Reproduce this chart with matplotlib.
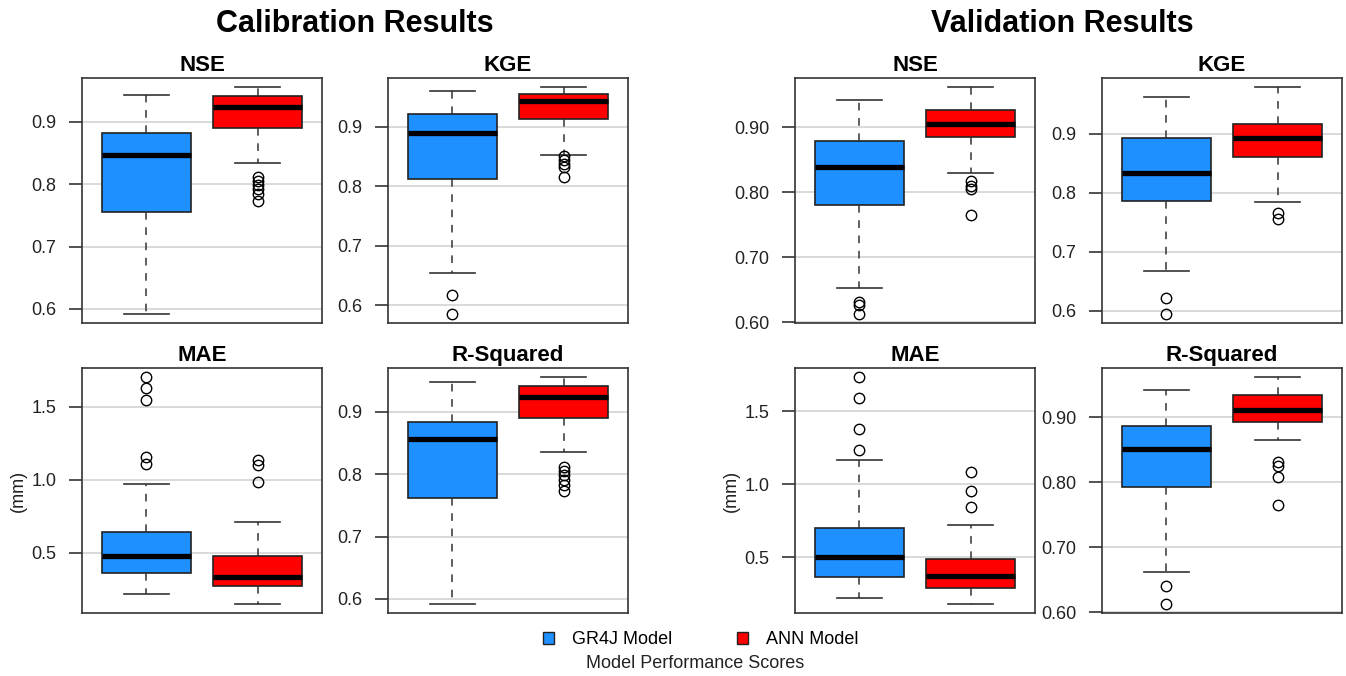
import matplotlib
matplotlib.use("Agg")
import matplotlib.pyplot as plt
from matplotlib.patches import Patch
from matplotlib.ticker import FormatStrFormatter

plt.rcParams['font.family'] = ['Liberation Sans', 'DejaVu Sans']

# ---------------- data (whislo, q1, median, q3, whishi) + outliers ----------------
models = ["GR4J Model", "ANN Model"]
colors = ["#1E90FF", "#FF0000"]

cal_nse_gr4j = [0.592, 0.755, 0.847, 0.883, 0.943]
cal_nse_gr4j_out = []
cal_nse_ann = [0.834, 0.890, 0.924, 0.942, 0.956]
cal_nse_ann_out = [0.811, 0.805, 0.799, 0.792, 0.784, 0.773]

cal_kge_gr4j = [0.654, 0.812, 0.889, 0.922, 0.960]
cal_kge_gr4j_out = [0.617, 0.585]
cal_kge_ann = [0.853, 0.914, 0.943, 0.956, 0.967]
cal_kge_ann_out = [0.851, 0.845, 0.838, 0.833, 0.816]

cal_mae_gr4j = [0.214, 0.358, 0.473, 0.639, 0.974]
cal_mae_gr4j_out = [1.705, 1.632, 1.545, 1.156, 1.111]
cal_mae_ann = [0.147, 0.269, 0.333, 0.475, 0.710]
cal_mae_ann_out = [1.133, 1.099, 0.985]

cal_r2_gr4j = [0.592, 0.7615, 0.856, 0.8835, 0.948]
cal_r2_gr4j_out = []
cal_r2_ann = [0.835, 0.890, 0.924, 0.942, 0.956]
cal_r2_ann_out = [0.812, 0.806, 0.799, 0.791, 0.783, 0.774]

val_nse_gr4j = [0.653, 0.781, 0.838, 0.878, 0.9415]
val_nse_gr4j_out = [0.632, 0.626, 0.613]
val_nse_ann = [0.829, 0.885, 0.905, 0.926, 0.9615]
val_nse_ann_out = [0.817, 0.810, 0.805, 0.765]

val_kge_gr4j = [0.668, 0.787, 0.834, 0.892, 0.962]
val_kge_gr4j_out = [0.622, 0.595]
val_kge_ann = [0.785, 0.861, 0.892, 0.916, 0.979]
val_kge_ann_out = [0.766, 0.756]

val_mae_gr4j = [0.223, 0.363, 0.504, 0.703, 1.168]
val_mae_gr4j_out = [1.735, 1.593, 1.379, 1.236]
val_mae_ann = [0.181, 0.287, 0.374, 0.490, 0.722]
val_mae_ann_out = [1.088, 0.957, 0.847]

val_r2_gr4j = [0.662, 0.7925, 0.852, 0.887, 0.942]
val_r2_gr4j_out = [0.640, 0.613]
val_r2_ann = [0.865, 0.893, 0.912, 0.934, 0.962]
val_r2_ann_out = [0.832, 0.825, 0.808, 0.765]

ticks_score = [0.6, 0.7, 0.8, 0.9]
ticks_mae = [0.5, 1.0, 1.5]

panels = [
    # title, gr4j, gr4j_out, ann, ann_out, ticks, fmt, ylabel, (col,row)
    ("NSE", cal_nse_gr4j, cal_nse_gr4j_out, cal_nse_ann, cal_nse_ann_out, ticks_score, "%.1f", "", (0, 0)),
    ("KGE", cal_kge_gr4j, cal_kge_gr4j_out, cal_kge_ann, cal_kge_ann_out, ticks_score, "%.1f", "", (1, 0)),
    ("MAE", cal_mae_gr4j, cal_mae_gr4j_out, cal_mae_ann, cal_mae_ann_out, ticks_mae, "%.1f", "(mm)", (0, 1)),
    ("R-Squared", cal_r2_gr4j, cal_r2_gr4j_out, cal_r2_ann, cal_r2_ann_out, ticks_score, "%.1f", "", (1, 1)),
    ("NSE", val_nse_gr4j, val_nse_gr4j_out, val_nse_ann, val_nse_ann_out, ticks_score, "%.2f", "", (2, 0)),
    ("KGE", val_kge_gr4j, val_kge_gr4j_out, val_kge_ann, val_kge_ann_out, ticks_score, "%.1f", "", (3, 0)),
    ("MAE", val_mae_gr4j, val_mae_gr4j_out, val_mae_ann, val_mae_ann_out, ticks_mae, "%.1f", "(mm)", (2, 1)),
    ("R-Squared", val_r2_gr4j, val_r2_gr4j_out, val_r2_ann, val_r2_ann_out, ticks_score, "%.2f", "", (3, 1)),
]

# ---------------- layout ----------------
W, H = 1346, 676
fig = plt.figure(figsize=(W / 100, H / 100), dpi=100)
col_x = [(82, 322), (388, 628), (795, 1035), (1102, 1342)]
row_y = [(78, 323), (368, 613)]


def px_rect(x0, x1, y0, y1):
    return [x0 / W, 1 - y1 / H, (x1 - x0) / W, (y1 - y0) / H]


def stats(v, out, label):
    return dict(whislo=v[0], q1=v[1], med=v[2], q3=v[3], whishi=v[4], fliers=out, label=label)


for title, g, go, a, ao, ticks, fmt, ylab, (c, r) in panels:
    ax = fig.add_axes(px_rect(col_x[c][0], col_x[c][1], row_y[r][0], row_y[r][1]))
    ax.set_axisbelow(True)
    for t in ticks:
        ax.axhline(t, color="#d3d3d3", lw=1.2, zorder=0)
    bp = ax.bxp([stats(g, go, models[0]), stats(a, ao, models[1])],
                positions=[1, 2], widths=0.8, capwidths=0.4, patch_artist=True,
                showfliers=True,
                boxprops=dict(edgecolor="#222222", linewidth=1.2),
                whiskerprops=dict(color="#333333", linewidth=1.1, linestyle=(0, (5, 5))),
                capprops=dict(color="#333333", linewidth=1.2),
                medianprops=dict(color="black", linewidth=3.8, solid_capstyle="butt"),
                flierprops=dict(marker="o", markerfacecolor="none", markeredgecolor="black",
                                markersize=7.5, markeredgewidth=1.0, linestyle="none"))
    for patch, col in zip(bp["boxes"], colors):
        patch.set_facecolor(col)
    allv = g + go + a + ao
    lo, hi = min(allv), max(allv)
    pad = (hi - lo) * 0.04
    ax.set_ylim(lo - pad, hi + pad)
    ax.set_xlim(0.42, 2.58)
    ax.set_xticks([])
    ax.set_yticks(ticks)
    ax.yaxis.set_major_formatter(FormatStrFormatter(fmt))
    ax.tick_params(axis="y", length=9.5, width=1.1, pad=9, labelsize=13, colors="#222222",
                   labelcolor="#222222")
    for s in ax.spines.values():
        s.set_color("#333333")
        s.set_linewidth(1.2)
    ax.set_title(title, fontsize=16, fontweight="bold", pad=5)
    if ylab:
        ax.set_ylabel(ylab, fontsize=13, labelpad=3, color="#222222")

# group titles
fig.text(355 / W, 1 - 24 / H, "Calibration Results", ha="center", va="center",
         fontsize=22, fontweight="bold")
fig.text(1062 / W, 1 - 24 / H, "Validation Results", ha="center", va="center",
         fontsize=22, fontweight="bold")

# legend
handles = [Patch(facecolor=colors[0], edgecolor="#222222", linewidth=1),
           Patch(facecolor=colors[1], edgecolor="#222222", linewidth=1)]
fig.legend(handles, models, loc="center", bbox_to_anchor=(701 / W, 1 - 640 / H), ncol=2,
           frameon=False, fontsize=13, handlelength=0.6, handleheight=0.6,
           handletextpad=1.0, columnspacing=3.6, borderpad=0)
fig.text(695 / W, 1 - 664 / H, "Model Performance Scores", ha="center", va="center",
         fontsize=13, color="#222222")

fig.savefig("out.png", dpi=100)
